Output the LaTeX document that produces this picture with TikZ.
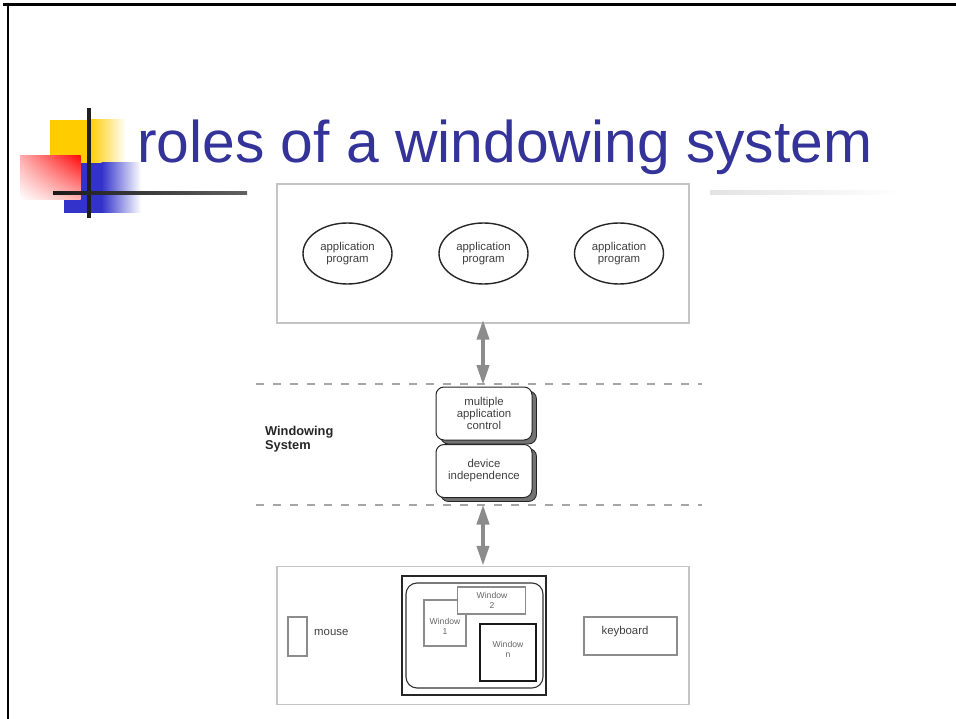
\documentclass[tikz,border=0pt]{standalone}
\usepackage{fontspec}
\setmainfont{Liberation Sans}
\usetikzlibrary{arrows.meta,shapes.geometric,shadows}
\definecolor{titleblue}{HTML}{333399}
\definecolor{logoyellow}{HTML}{FFCC00}
\definecolor{logored}{HTML}{FF1010}
\definecolor{logoblue}{HTML}{3333CC}
\definecolor{frameline}{HTML}{C4C4C4}
\definecolor{txtgray}{HTML}{404040}
\definecolor{arrowgray}{HTML}{8C8C8C}
\tikzset{
  txt/.style={font=\fontsize{11.4}{12}\selectfont, text=txtgray, align=center},
  framebox/.style={draw=frameline, line width=1.5, fill=white},
  appell/.style={ellipse, draw=black!85, line width=1.4, minimum width=89, minimum height=61, inner sep=0, txt},
  rbox/.style={draw=black!85, line width=1, fill=white, rounded corners=8, minimum width=96, minimum height=53, inner sep=0, txt,
     general shadow={shadow xshift=4.5pt, shadow yshift=-4pt, fill=black!55, draw=black!85, line width=0.8}},
  dashline/.style={draw=black!35, line width=1.1, dash pattern=on 8pt off 9pt},
  dblarrow/.style={draw=arrowgray, line width=4, {Triangle[width=12pt,length=20pt]}-{Triangle[width=12pt,length=20pt]}},
  grayrect/.style={draw=black!45, line width=1.1, fill=white, inner sep=0, txt},
  winlabel/.style={font=\fontsize{8.6}{10}\selectfont, text=black!60, align=center}
}
\begin{document}
\begin{tikzpicture}[x=1pt,y=-1pt]
\useasboundingbox (0,0) rectangle (956,719);
\fill[white] (0,0) rectangle (956,719);
% slide border
\draw[line width=2.2] (3,4.5) -- (956,4.5);
\draw[line width=2.2] (8.2,4.5) -- (8.2,719);
% logo
\fill[logoyellow] (50,120) rectangle (90,163);
\shade[left color=logoyellow, right color=white] (89.5,120) rectangle (126,163);
\fill[logoblue] (64,163) rectangle (102,213);
\shade[left color=logoblue, right color=white] (101.5,163) rectangle (141,213);
\foreach \i in {0,...,29}{
  \pgfmathsetmacro{\tc}{35+65*\i/29}
  \pgfmathsetmacro{\bc}{30*\i/29}
  \shade[top color=logored!\tc, bottom color=logored!\bc] (20+2*\i,156) rectangle (22.6+2*\i,200);
}
\fill[black!88] (86.5,108) rectangle (90.5,218);
\shade[left color=black!90, right color=black!62] (53,191.5) rectangle (247,195);
\shade[left color=black!11, right color=white] (710,191) rectangle (903,194.5);
% title
\node[anchor=base west, inner sep=0, font=\fontsize{58.8}{60}\selectfont, text=titleblue] (title) at (137,163) {roles of a windowing system};
% top box
\node[framebox, minimum width=412, minimum height=139, inner sep=0] (top) at (483,253.5) {};
\node[appell] (app1) at (347.5,253.5) {application\\program};
\node[appell] (app2) at (483.5,253.5) {application\\program};
\node[appell] (app3) at (619,253.5) {application\\program};
% windowing system layer
\draw[dashline] (256,384) -- (702,384);
\draw[dashline] (256,505) -- (702,505);
\coordinate (d1) at (483,385);
\coordinate (d2) at (483,504.5);
\node[rbox] (mac) at (484,413.5) {multiple\\application\\control};
\node[rbox] (dev) at (484,471) {device\\independence};
\node[anchor=west, align=left, inner sep=0, font=\bfseries\fontsize{12.8}{14}\selectfont, text=black!85] (ws) at (265,439) {Windowing\\System};
% bottom box
\node[framebox, minimum width=412, minimum height=138, inner sep=0] (bot) at (483,635.5) {};
\draw[dblarrow] ([yshift=4pt]top.south) -- (d1);
\draw[dblarrow] (d2) -- (bot.north);
\node[grayrect, minimum width=19, minimum height=39] (mouse) at (297.5,636.5) {};
\node[anchor=west, txt, inner sep=0] (mousetxt) at (314,632) {mouse};
\node[grayrect, minimum width=93, minimum height=38] (kbd) at (630.5,636) {};
\node[txt, inner sep=0] (kbdtxt) at (625,632) {keyboard};
\node[draw=black!85, line width=1.3, minimum width=144, minimum height=119, inner sep=0] (screen) at (474,635.5) {};
\node[draw=black!80, line width=1.1, rounded corners=11, minimum width=137, minimum height=105, inner sep=0] (desk) at (474.5,635.5) {};
\node[grayrect, minimum width=42, minimum height=46] (w1) at (445,623) {};
\node[winlabel] at (445,626.5) {Window\\1};
\node[grayrect, minimum width=68, minimum height=27] (w2) at (491.5,600.5) {};
\node[winlabel] at (492,600) {Window\\2};
\node[draw=black!90, line width=2, fill=white, minimum width=56, minimum height=57, inner sep=0] (wn) at (508,652.5) {};
\node[winlabel] at (508,649) {Window\\n};
\end{tikzpicture}
\end{document}
